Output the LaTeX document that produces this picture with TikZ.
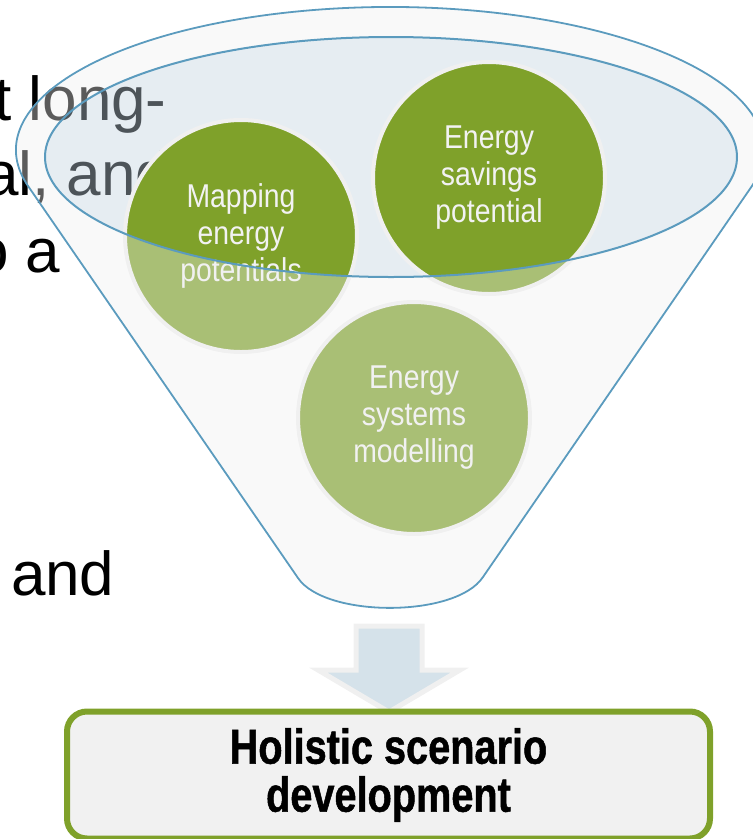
\documentclass[tikz,border=0pt]{standalone}
\usepackage{fontspec}
\setmainfont{Liberation Sans}
\newfontfamily\condfont[FakeStretch=0.86]{Liberation Sans}
\newfontfamily\boldcond[FakeStretch=0.81,FakeBold=1]{Liberation Sans Bold}
\definecolor{fgreen}{RGB}{127,161,42}
\definecolor{ringgrey}{RGB}{240,240,240}
\definecolor{funnelblue}{RGB}{91,155,190}
\definecolor{ellfill}{RGB}{193,210,223}
\definecolor{frontfill}{RGB}{240,240,240}
\definecolor{arrowfill}{RGB}{213,226,234}
\definecolor{boxfill}{RGB}{241,241,241}
\definecolor{ctext}{RGB}{242,242,242}
\begin{document}
\begin{tikzpicture}[x=1pt,y=-1pt,
  bgtext/.style={anchor=base west, inner sep=0pt, outer sep=0pt, font=\fontsize{62}{75}\selectfont, text=black},
  bubble/.style={circle, minimum size=232pt, inner sep=0pt, fill=fgreen, draw=ringgrey, line width=4pt,
    text=ctext, align=center, font=\condfont\fontsize{33}{37}\selectfont},
  funnelline/.style={draw=funnelblue, line width=1.8pt},
  resultbox/.style={draw=fgreen, line width=6pt, fill=boxfill, rounded corners=20pt,
    minimum width=643pt, minimum height=127pt, inner sep=0pt, align=center,
    font=\boldcond\fontsize{49}{48}\selectfont}]
\useasboundingbox (0,0) rectangle (753,839);
\clip (0,0) rectangle (753,839);
% background text fragments
\node[bgtext] (t1) at (-5.6,120) {t long-};
\node[bgtext] (t2) at (-15.7,195) {al, and};
\node[bgtext] (t3) at (-25.9,272) {o a};
\node[bgtext] (t4) at (11,595) {and};
% inner ellipse (funnel mouth)
\fill[ellfill, fill opacity=0.4] (391,157) ellipse [x radius=346pt, y radius=120pt];
% circles
\node[bubble] (map) at (241,236) {Mapping\\energy\\potentials};
\node[bubble] (sav) at (489,178) {Energy\\savings\\potential};
\node[bubble] (sys) at (414,418) {Energy\\systems\\modelling};
% translucent funnel front
\fill[frontfill, fill opacity=0.38, even odd rule]
  (28.74,187.01) arc[start angle=195, end angle=-15, x radius=374pt, y radius=143pt]
  -- (483,577) .. controls (456,618) and (325,618) .. (298,578) -- cycle
  (391,157) ellipse [x radius=346pt, y radius=120pt];
% funnel outlines
\draw[funnelline]
  (28.74,187.01) arc[start angle=195, end angle=-15, x radius=374pt, y radius=143pt]
  -- (483,577) .. controls (456,618) and (325,618) .. (298,578) -- cycle;
\draw[funnelline, line width=2pt] (391,157) ellipse [x radius=346pt, y radius=120pt];
% down arrow
\draw[fill=arrowfill, draw=ringgrey, line width=5pt, line join=miter]
  (356,626) -- (422,626) -- (422,670) -- (460,670) -- (389,712) -- (318,670) -- (356,670) -- cycle;
% result box
\node[resultbox] (box) at (388.5,775) {Holistic scenario\\development};
\end{tikzpicture}
\end{document}
